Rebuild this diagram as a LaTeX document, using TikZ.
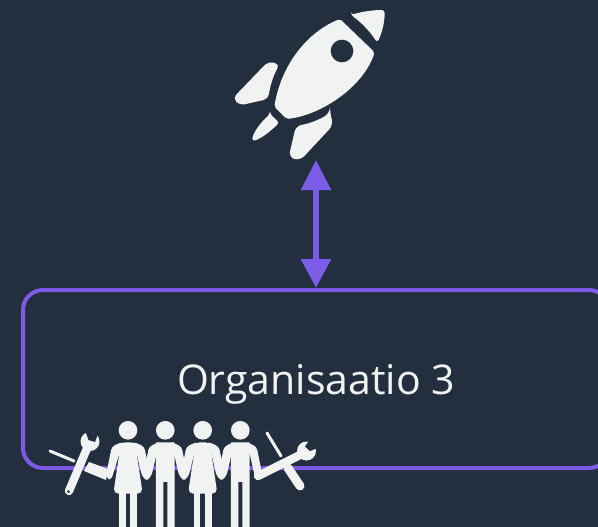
\documentclass[tikz,border=0pt]{standalone}
\usepackage{fontspec}
\setmainfont{Open Sans}
\usetikzlibrary{arrows.meta}
\definecolor{bgc}{RGB}{35,47,62}
\definecolor{vio}{RGB}{124,92,230}
\definecolor{wht}{RGB}{241,243,243}
\tikzset{
  orgbox/.style={draw=vio,line width=4pt,rounded corners=20pt,minimum width=586pt,minimum height=178pt,text=wht,font=\fontsize{41}{48}\selectfont,inner sep=0pt,outer sep=2pt},
  link/.style={draw=vio,line width=5.5pt,{Triangle[length=30pt,width=29pt,fill=vio]}-{Triangle[length=29pt,width=29pt,fill=vio]}},
  zoomed/.style={x=0.3333pt,y=-0.3333pt}
}
\newcommand{\headat}{\fill[wht] (0,0) circle (28);}
\newcommand{\femalebody}{\headat
  \fill[wht,rounded corners=5pt] (-24,36) -- (24,36) -- (26,69) -- (44,190) -- (-44,190) -- (-26,69) -- cycle;
  \fill[wht] (-27,180) rectangle (-7,290);
  \fill[wht] (6,180) rectangle (28,290);}
\newcommand{\malebody}{\headat
  \fill[wht] (-28,36) -- (28,36) -- (28,290) -- (6,290) -- (6,155) -- (-6,155) -- (-6,290) -- (-28,290) -- cycle;}
\newcommand{\armright}{\fill[wht,rounded corners=3pt] (10,36) -- (26,38) -- (49,50) -- (56,84) -- (68,125) -- (64,145) -- (54,150) -- (41,135) -- (26,70) -- cycle;}
\newcommand{\armleft}{\fill[wht,rounded corners=3pt] (-10,36) -- (-26,38) -- (-49,50) -- (-56,84) -- (-68,125) -- (-64,145) -- (-54,150) -- (-41,135) -- (-26,70) -- cycle;}
\begin{document}
\begin{tikzpicture}[x=1pt,y=-1pt]
\useasboundingbox (0,0) rectangle (598,527);
\clip (0,0) rectangle (598,527);
\fill[bgc] (0,0) rectangle (598,527);
% rocket
\begin{scope}[shift={(220,0)},zoomed]
  \fill[wht,rounded corners=2pt] (360,57) .. controls (265,95) and (185,190) .. (163,320) -- (200,357) .. controls (305,345) and (430,260) .. (464,157) -- cycle;
  \fill[bgc] (366,153) circle (34);
  \fill[wht,rounded corners=3pt] (393,45) .. controls (425,35) and (460,30) .. (494,30) .. controls (494,70) and (485,100) .. (472,128) .. controls (450,95) and (425,68) .. cycle;
  \fill[wht,rounded corners=5pt] (145,184) -- (180,193) .. controls (160,225) and (150,260) .. (145,297) -- (60,316) -- (38,295) -- cycle;
  \fill[wht,rounded corners=3pt] (150,342) -- (178,368) .. controls (150,395) and (125,415) .. (96,424) .. controls (100,395) and (125,365) .. cycle;
  \fill[wht,rounded corners=6pt] (330,339) -- (340,375) -- (240,482) -- (206,472) -- (228,377) .. controls (265,372) and (300,358) .. cycle;
\end{scope}
% box
\node[orgbox] (org) at (316,379) {\raisebox{-5pt}[\height][\depth]{Organisaatio 3}};
% connector
\coordinate (rk) at (316,160);
\draw[link] (rk) -- (org.north);
% tools left
\draw[wht,line width=3pt,line cap=round] (50,451) -- (74,461);
\draw[wht,line width=8.3pt,line cap=round] (69,491) -- (88,446);
\fill[wht] (90,441.5) circle (9.5);
\fill[bgc] (85,430) -- (98,434) -- (95,442) -- (88.5,440) -- cycle;
\fill[bgc] (68.5,491.5) circle (1.5);
% forearm left
\fill[wht] (89,462) -- (108,469) -- (106,480) -- (84,471) -- cycle;
% tools right
\draw[wht,line width=3pt,line cap=round] (267,433) -- (281,456);
\draw[wht,line width=9pt,line cap=round] (288,468) -- (300,486);
\draw[wht,line width=8.3pt,line cap=round] (258,476) -- (300,455);
\fill[wht] (306.5,451) circle (9.5);
\fill[bgc] (305,446.5) -- (310,451) -- (320,447) -- (311,438) -- cycle;
% people
\begin{scope}[shift={(128,430.3)},zoomed]
  \femalebody \armright
  \fill[wht,rounded corners=3pt] (-10,36) -- (-26,38) -- (-49,50) -- (-66,135) -- (-62,146) -- (-50,148) -- (-26,70) -- cycle;
\end{scope}
\begin{scope}[shift={(165.3,430.3)},zoomed]
  \malebody \armleft \armright
\end{scope}
\begin{scope}[shift={(202.7,430.3)},zoomed]
  \femalebody \armleft \armright
\end{scope}
\begin{scope}[shift={(240.3,430.3)},zoomed]
  \malebody \armleft
  \fill[wht,rounded corners=3pt] (10,36) -- (26,38) -- (49,50) -- (63,118) -- (52,146) -- (44,140) -- (28,70) -- cycle;
\end{scope}
\end{tikzpicture}
\end{document}
